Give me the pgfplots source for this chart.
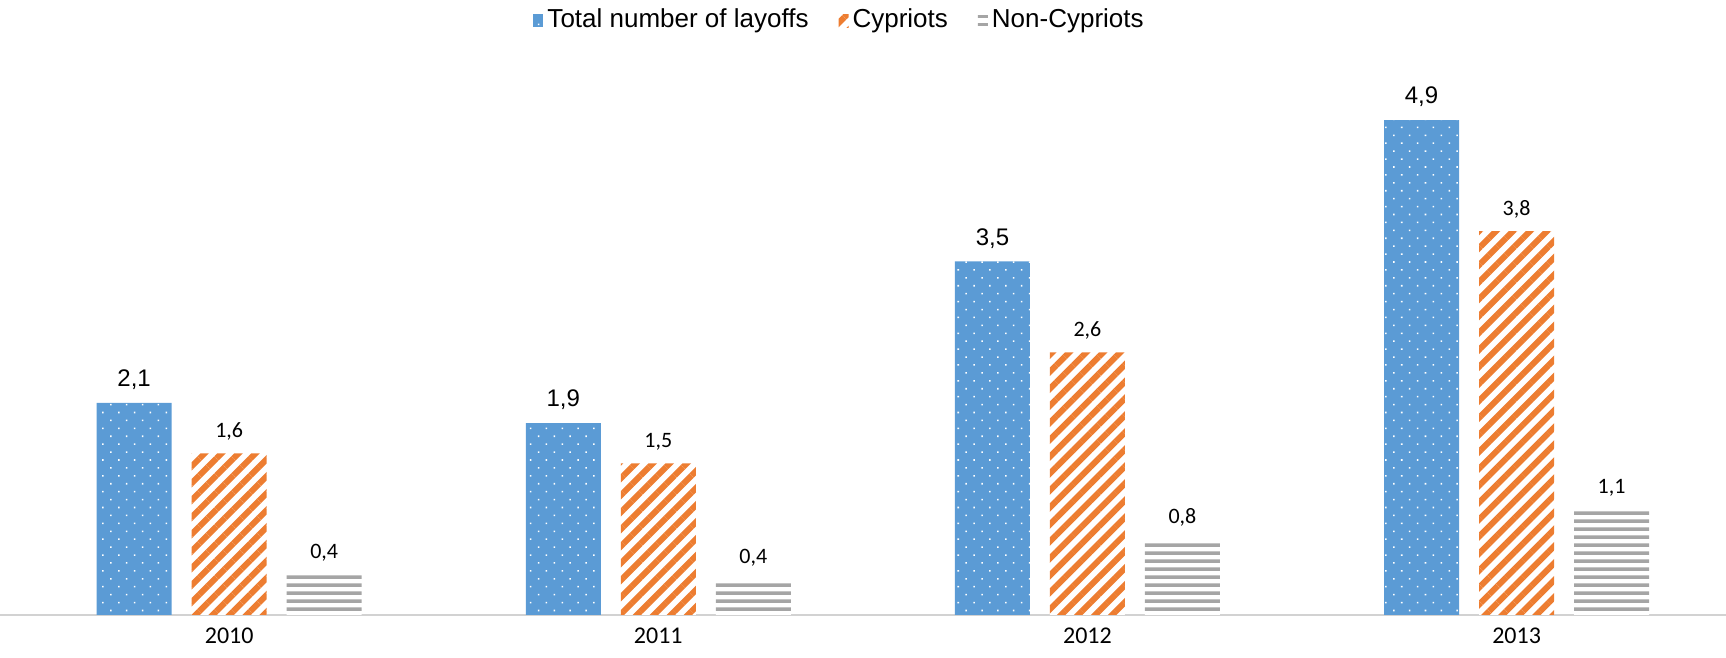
\documentclass[border=0pt]{standalone}
\usepackage{fontspec}
\setmainfont{Liberation Sans}
\newfontfamily\carlito{Carlito}
\usepackage{pgfplots}
\pgfplotsset{compat=1.18}
\usetikzlibrary{patterns.meta}

\definecolor{cblue}{HTML}{5B9BD5}
\definecolor{corange}{HTML}{ED7D31}
\definecolor{cgrey}{HTML}{A5A5A5}

% horizontal stripes for the Non-Cypriots bars (tile wider than the page, so no seams)
\pgfdeclarepatternformonly{greylines}{\pgfqpoint{0pt}{0pt}}{\pgfqpoint{1000pt}{3.9pt}}{\pgfqpoint{1000pt}{3.9pt}}{%
  \pgfpathrectangle{\pgfqpoint{0pt}{0pt}}{\pgfqpoint{1000pt}{1.8pt}}\pgfusepath{fill}}

\begin{document}
\begin{tikzpicture}
\begin{axis}[
    name=ax,
    scale only axis,
    width=863pt, height=277.5pt,
    xmin=-0.534, xmax=3.488,
    ymin=0, ymax=5.495,
    ybar=10pt, bar width=37.5pt,
    axis x line*=bottom, axis y line=none,
    x axis line style={draw=gray!35, line width=0.75pt},
    xtick=data, xticklabels={2010,2011,2012,2013},
    major tick length=0pt,
    xticklabel style={font=\carlito\fontsize{12}{14}\selectfont, yshift=-3pt},
    /pgf/number format/.cd, use comma, fixed, fixed zerofill, precision=1, assume math mode=true, /pgfplots/.cd,
    nodes near coords,
    nodes near coords style={font=\carlito\fontsize{11}{13}\selectfont, anchor=south, yshift=3pt, text=black},
    legend style={draw=none, fill=none, legend columns=-1,
        at={(0.487,1.072)}, anchor=center,
        font=\fontsize{13}{15}\selectfont,
        /tikz/every even column/.append style={column sep=13pt}},
    legend image code/.code={\path[#1] (0pt,-3.5pt) rectangle (5pt,3pt);},
]
% total layoffs
\addplot[fill=cblue, draw=none,
    postaction={pattern={Dots[distance=5.6pt, radius=0.55pt, angle=45]}, pattern color=white},
    nodes near coords style={font=\fontsize{12}{14}\selectfont}]
    coordinates {(0,2.1) (1,1.9) (2,3.5) (3,4.9)};
% Cypriots
\addplot[fill=white, draw=none,
    postaction={pattern={Lines[distance=6pt, line width=3pt, angle=45]}, pattern color=corange}]
    coordinates {(0,1.6) (1,1.5) (2,2.6) (3,3.8)};
% Non-Cypriots
\addplot[fill=white, draw=none,
    postaction={pattern=greylines, pattern color=cgrey}]
    coordinates {(0,0.4) (1,0.35) (2,0.75) (3,1.05)};
\legend{Total number of layoffs, Cypriots, Non-Cypriots}
\end{axis}
\pgfresetboundingbox
\path ([yshift=-21.5pt]ax.south west) rectangle ([xshift=863pt,yshift=307.5pt]ax.south west);
\end{tikzpicture}
\end{document}
